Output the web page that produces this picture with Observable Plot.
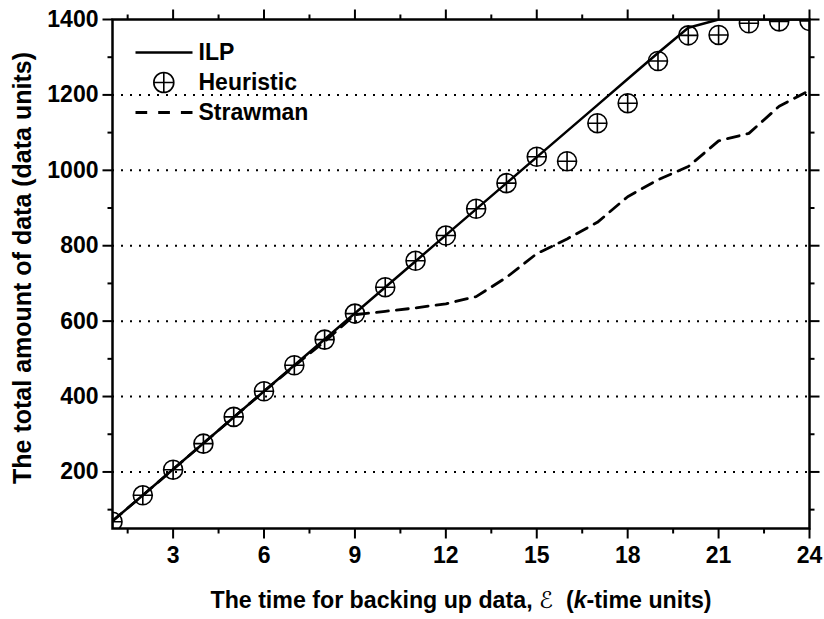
<!DOCTYPE html>
<html><head><meta charset="utf-8">
<script src="https://cdn.jsdelivr.net/npm/d3@7"></script>
<script src="https://cdn.jsdelivr.net/npm/@observablehq/plot@0.6"></script>
<style>
body{margin:0;background:#fff;}
#chart svg{display:block;}
</style>
</head><body><div id="chart"></div>
<script>
// ---- data ----
const times = [1,2,3,4,5,6,7,8,9,10,11,12,13,14,15,16,17,18,19,20,21,22,23,24];
const ilp = [70,138,207,276,345,414,483,552,621,690,759,828,897,966,1035,1104,1173,1242,1311,1378,1400,1400,1400,1400];
const heuristic = [68,138,206,275,346,414,483,551,620,690,760,827,898,966,1036,1024,1125,1178,1290,1358,1359,1390,1395,1396];
const strawman = [70,138,207,276,345,414,481,546,617,626,635,646,665,716,779,818,862,930,975,1010,1078,1098,1170,1212];
const xTicks = [3,6,9,12,15,18,21,24];
const xMinor = [1.5,4.5,7.5,10.5,13.5,16.5,19.5,22.5];
const yTicks = [200,400,600,800,1000,1200,1400];
const yMinor = [100,300,500,700,900,1100,1300];
const yGrid = [200,400,600,800,1000,1200];
const seriesNames = ["ILP","Heuristic","Strawman"];
const xTitle = "The time for backing up data, \u2130  (k-time units)";
const yTitle = "The total amount of data (data units)";

const ilpData = times.map((t,i)=>({t, v: ilp[i]}));
const heuData = times.map((t,i)=>({t, v: heuristic[i]}));
const strData = times.map((t,i)=>({t, v: strawman[i]}));

// ---- custom symbols ----
const circlePlus = {draw(c, size){const r=Math.sqrt(size/Math.PI); c.moveTo(r,0); c.arc(0,0,r,0,2*Math.PI); c.moveTo(-r,0); c.lineTo(r,0); c.moveTo(0,-r); c.lineTo(0,r);}};
const tickSym = (ux,uy) => ({draw(c,size){const L=Math.sqrt(size/Math.PI); c.moveTo(0,0); c.lineTo(ux*L, uy*L);}});
const hSeg = {draw(c,size){const L=Math.sqrt(size/Math.PI); c.moveTo(-L,0); c.lineTo(L,0);}};

const font = "'Liberation Sans', Arial, Helvetica, sans-serif";
const tk = {stroke:"black", fill:"none", strokeWidth:2};

const legendDy = [33, 63, 93];

const plot = Plot.plot({
  width: 824,
  height: 619,
  marginLeft: 112,
  marginRight: 15,
  marginTop: 19,
  marginBottom: 91,
  style: {fontFamily: font, fontSize: "23px", fontWeight: "bold", color: "black", background: "white"},
  x: {domain: [1,24], axis: null},
  y: {domain: [50,1400], axis: null},
  marks: [
    Plot.ruleY(yGrid, {y: d=>d, stroke:"black", strokeWidth:2, strokeDasharray:"2,7"}),
    Plot.line(strData, {x:"t", y:"v", stroke:"black", strokeWidth:2.8, strokeDasharray:"12,8", clip:true}),
    Plot.line(ilpData, {x:"t", y:"v", stroke:"black", strokeWidth:2.5, clip:true}),
    Plot.dot(heuData, {x:"t", y:"v", symbol: circlePlus, r: 9.5, stroke:"black", fill:"none", strokeWidth:1.6, clip:true}),
    // ticks
    Plot.dot(xTicks, {x:d=>d, frameAnchor:"bottom", symbol: tickSym(0,1), r:10, ...tk}),
    Plot.dot(xMinor, {x:d=>d, frameAnchor:"bottom", symbol: tickSym(0,1), r:5, ...tk}),
    Plot.dot(xTicks, {x:d=>d, frameAnchor:"top", symbol: tickSym(0,-1), r:10, ...tk}),
    Plot.dot(xMinor, {x:d=>d, frameAnchor:"top", symbol: tickSym(0,-1), r:5, ...tk}),
    Plot.dot(yTicks, {y:d=>d, frameAnchor:"left", symbol: tickSym(-1,0), r:10, ...tk}),
    Plot.dot(yMinor, {y:d=>d, frameAnchor:"left", symbol: tickSym(-1,0), r:5, ...tk}),
    Plot.dot(yTicks, {y:d=>d, frameAnchor:"right", symbol: tickSym(1,0), r:10, ...tk}),
    Plot.dot(yMinor, {y:d=>d, frameAnchor:"right", symbol: tickSym(1,0), r:5, ...tk}),
    Plot.frame({stroke:"black", strokeWidth:2.5}),
    // tick labels
    Plot.text(xTicks, {x:d=>d, frameAnchor:"bottom", dy:27, lineAnchor:"middle", text:d=>String(d), fill:"black"}),
    Plot.text(yTicks, {y:d=>d, frameAnchor:"left", dx:-14, textAnchor:"end", lineAnchor:"middle", text:d=>String(d), fill:"black"}),
    // axis titles
    Plot.text([xTitle], {frameAnchor:"bottom", dy:72, lineAnchor:"middle", textAnchor:"middle", text:d=>d, fontSize:23.2, fill:"black"}),
    Plot.text([yTitle], {frameAnchor:"left", dx:-90, dy:-6, rotate:-90, textAnchor:"middle", lineAnchor:"middle", text:d=>d, fontSize:25, fill:"black"}),
    // legend
    Plot.dot([0], {frameAnchor:"top-left", dx:51.5, dy:legendDy[0], symbol:hSeg, r:28.5, stroke:"black", fill:"none", strokeWidth:2.5}),
    Plot.dot([0], {frameAnchor:"top-left", dx:51.3, dy:legendDy[1], symbol:circlePlus, r:10, stroke:"black", fill:"none", strokeWidth:1.6}),
    Plot.dot([0], {frameAnchor:"top-left", dx:51.5, dy:legendDy[2], symbol:hSeg, r:28.5, stroke:"black", fill:"none", strokeWidth:2.8, strokeDasharray:"11.7,11"}),
    ...seriesNames.map((s,i)=>Plot.text([s], {frameAnchor:"top-left", dx:86, dy:legendDy[i], text:d=>d, textAnchor:"start", lineAnchor:"middle", fill:"black"}))
  ]
});

// rich formatting for the x title (script E, italic k)
d3.select(plot).selectAll("text").each(function(){
  if (this.textContent === xTitle) {
    const t = d3.select(this);
    t.text(null);
    t.append("tspan").text("The time for backing up data, ");
    t.append("tspan").attr("font-family","'DejaVu Serif', 'DejaVu Sans', serif").attr("font-style","italic").attr("font-weight","normal").text("\u2130");
    t.append("tspan").text("\u00a0\u00a0(");
    t.append("tspan").attr("font-style","italic").text("k");
    t.append("tspan").text("-time units)");
  }
});

document.getElementById("chart").append(plot);
</script>
</body></html>
